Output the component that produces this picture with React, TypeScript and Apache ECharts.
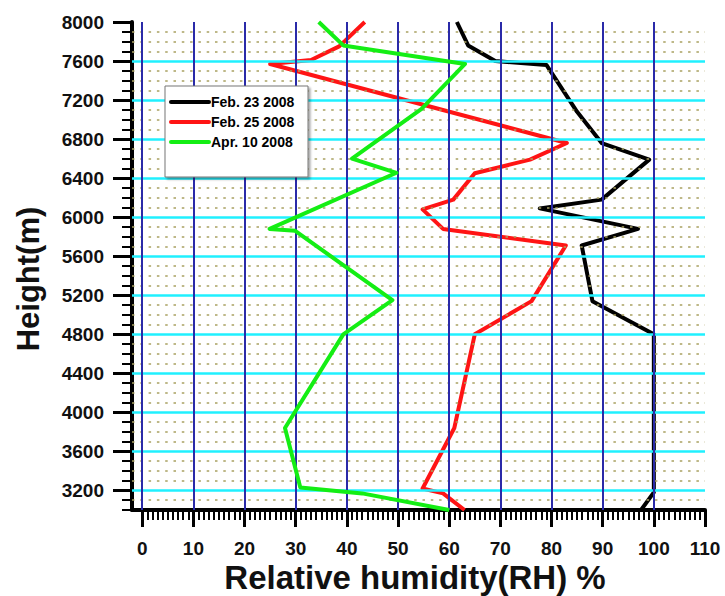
import React, { useEffect, useRef } from "react";
import * as echarts from "echarts";

// ---- data (RH %, height m) ----
const feb23RH = [61.5, 63.7, 69, 79, 85, 89.8, 99.1, 89.8, 77.7, 96.9, 85.9, 88, 100, 100, 97.5];
const feb23H = [8000, 7760, 7600, 7560, 7080, 6760, 6590, 6180, 6090, 5880, 5710, 5140, 4800, 3180, 3000];

const feb25RH = [43.5, 38.5, 33, 25, 83, 75.8, 65, 60.8, 54.8, 58.8, 82.8, 76.1, 65, 61, 54.8, 58.8, 63];
const feb25H = [8000, 7750, 7610, 7570, 6760, 6590, 6450, 6180, 6080, 5880, 5710, 5140, 4800, 3840, 3220, 3170, 3000];

const apr10RH = [34.5, 39.3, 63.1, 54.6, 41, 49.7, 24.9, 29.9, 48.9, 39.3, 27.9, 30.9, 43, 60];
const apr10H = [8000, 7760, 7570, 7110, 6600, 6455, 5880, 5860, 5150, 4800, 3840, 3230, 3170, 3000];

const seriesNames = ["Feb. 23 2008", "Feb. 25 2008", "Apr. 10 2008"];
const seriesColors = ["#000000", "#ff1414", "#14ee14"];

// ---- axis ticks ----
const xMajorTicks = [0, 10, 20, 30, 40, 50, 60, 70, 80, 90, 100, 110];
const yMajorTicks = [3200, 3600, 4000, 4400, 4800, 5200, 5600, 6000, 6400, 6800, 7200, 7600, 8000];
const xMinorTicks: number[] = [];
for (let v = 0; v <= 110; v += 1) xMinorTicks.push(v);
const yMinorTicks: number[] = [];
for (let v = 3000; v <= 8000; v += 100) yMinorTicks.push(v);

// ---- grid lines ----
const xBlueLines = [0, 10, 20, 30, 40, 50, 60, 70, 80, 90, 100];
const yCyanLines = [3200, 3600, 4000, 4400, 4800, 5200, 5600, 6000, 6400, 6800, 7200, 7600];
const yDottedLines: number[] = [];
for (let v = 3100; v < 8000; v += 100) if (v % 400 !== 0) yDottedLines.push(v);

const FONT = "'Liberation Sans', Arial, Helvetica, sans-serif";

function zip(xs: number[], ys: number[]) {
  return xs.map((x, i) => [x, ys[i]]);
}

export default function App() {
  const ref = useRef<HTMLDivElement>(null);
  useEffect(() => {
    document.body.style.margin = "0";
    const chart = echarts.init(ref.current!, null, { renderer: "svg" });
    const gridMarks: any[] = [];
    yDottedLines.forEach((v) =>
      gridMarks.push({ yAxis: v, lineStyle: { color: "#a8a060", width: 2, type: [2.5, 5.8], opacity: 0.75 } })
    );
    yCyanLines.forEach((v) =>
      gridMarks.push({ yAxis: v, lineStyle: { color: "#20f0ff", width: 2.5, type: "solid" } })
    );
    xBlueLines.forEach((v) =>
      gridMarks.push({ xAxis: v, lineStyle: { color: "#2a2aa8", width: 2, type: "solid" } })
    );

    const datasets = [zip(feb23RH, feb23H), zip(feb25RH, feb25H), zip(apr10RH, apr10H)];

    // legend drawn as graphic
    const legendItems: any[] = [
      {
        type: "rect",
        shape: { x: 165, y: 86, width: 143, height: 91 },
        style: {
          fill: "#ffffff",
          stroke: "#777777",
          lineWidth: 1,
          shadowColor: "rgba(0,0,0,0.35)",
          shadowBlur: 2,
          shadowOffsetX: 2,
          shadowOffsetY: 2,
        },
        z: 50,
      },
    ];
    seriesNames.forEach((name, i) => {
      const cy = 102 + i * 20;
      legendItems.push({
        type: "line",
        shape: { x1: 171, y1: cy, x2: 209, y2: cy },
        style: { stroke: seriesColors[i], lineWidth: 4, lineCap: "round" },
        z: 51,
      });
      legendItems.push({
        type: "text",
        x: 211,
        y: cy,
        style: {
          text: name,
          font: `bold 14px ${FONT}`,
          fill: "#000",
          align: "left",
          verticalAlign: "middle",
        },
        z: 51,
      });
    });

    const option: any = {
      animation: false,
      grid: { left: 132, right: 20, top: 22, bottom: 86 },
      legend: { show: false },
      xAxis: [
        {
          type: "value",
          min: -2,
          max: 110,
          position: "bottom",
          axisLine: { show: true, onZero: false, lineStyle: { color: "#000", width: 4 } },
          axisTick: { show: true, customValues: xMinorTicks, length: 10, lineStyle: { color: "#000", width: 2 } },
          axisLabel: { show: false },
          splitLine: { show: false },
        },
        {
          type: "value",
          min: -2,
          max: 110,
          position: "bottom",
          axisLine: { show: false, onZero: false },
          axisTick: { show: true, customValues: xMajorTicks, length: 17, lineStyle: { color: "#000", width: 3 } },
          axisLabel: {
            show: true,
            customValues: xMajorTicks,
            margin: 29,
            fontFamily: FONT,
            fontWeight: "bold",
            fontSize: 19,
            color: "#111",
          },
          splitLine: { show: false },
        },
      ],
      yAxis: [
        {
          type: "value",
          min: 3000,
          max: 8000,
          position: "left",
          axisLine: { show: true, onZero: false, lineStyle: { color: "#000", width: 4 } },
          axisTick: { show: true, customValues: yMinorTicks, length: 10, lineStyle: { color: "#000", width: 2 } },
          axisLabel: { show: false },
          splitLine: { show: false },
        },
        {
          type: "value",
          min: 3000,
          max: 8000,
          position: "left",
          axisLine: { show: false, onZero: false },
          axisTick: { show: true, customValues: yMajorTicks, length: 19, lineStyle: { color: "#000", width: 3 } },
          axisLabel: {
            show: true,
            customValues: yMajorTicks,
            formatter: (v: number) => String(v),
            margin: 28,
            fontFamily: FONT,
            fontWeight: "bold",
            fontSize: 19,
            color: "#111",
          },
          splitLine: { show: false },
        },
      ],
      graphic: [
        {
          type: "text",
          x: 28,
          y: 279,
          rotation: Math.PI / 2,
          style: {
            text: "Height(m)",
            font: `bold 31px ${FONT}`,
            fill: "#111",
            align: "center",
            verticalAlign: "middle",
          },
        },
        {
          type: "text",
          x: 415,
          y: 577,
          style: {
            text: "Relative humidity(RH) %",
            font: `bold 33px ${FONT}`,
            fill: "#111",
            align: "center",
            verticalAlign: "middle",
          },
        },
        ...legendItems,
      ],
      series: [
        {
          name: "gridlines",
          type: "line",
          data: [],
          z: 1,
          silent: true,
          markLine: {
            silent: true,
            symbol: ["none", "none"],
            label: { show: false },
            emphasis: { disabled: true },
            animation: false,
            data: gridMarks,
          },
        },
        ...seriesNames.map((name, i) => ({
          name,
          type: "line",
          data: datasets[i],
          z: 3 + i,
          showSymbol: false,
          clip: true,
          color: seriesColors[i],
          lineStyle: { color: seriesColors[i], width: 4, join: "round" },
        })),
      ],
    };
    chart.setOption(option);
    return () => chart.dispose();
  }, []);
  return <div ref={ref} style={{ width: 725, height: 596 }} />;
}
